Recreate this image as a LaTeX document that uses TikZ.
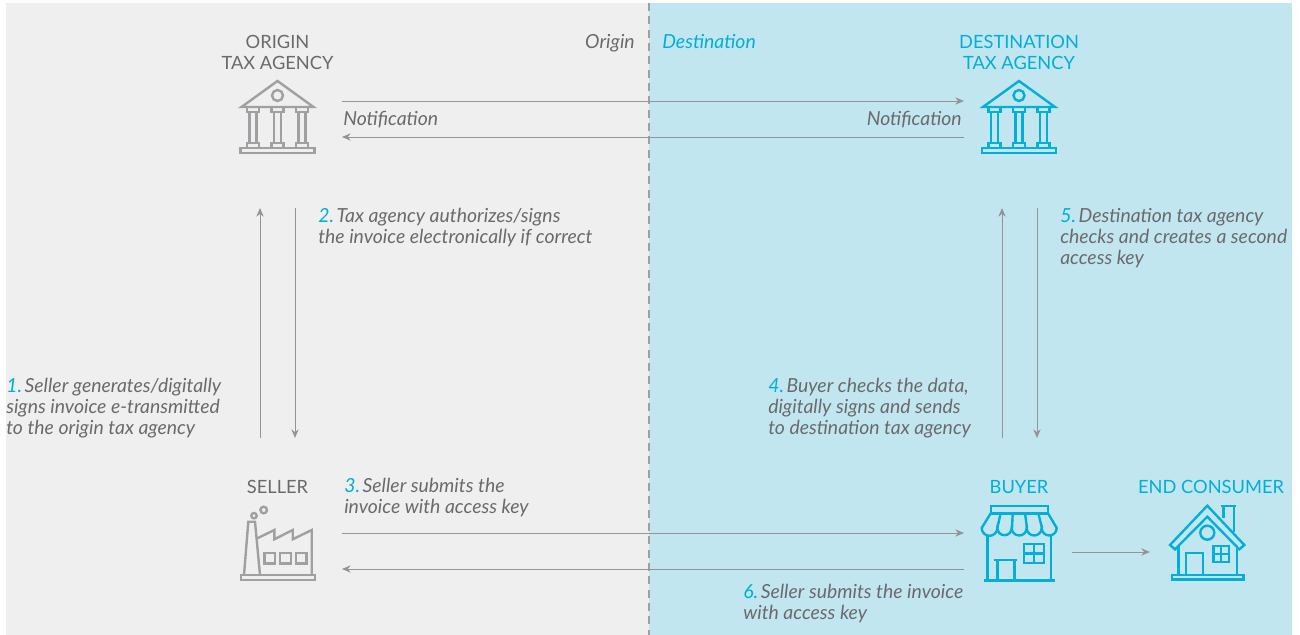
\documentclass[tikz,border=0pt]{standalone}
\usepackage{fontspec}
\setmainfont{Lato}
\usetikzlibrary{arrows.meta}
\definecolor{origingray}{HTML}{EFEFEF}
\definecolor{destblue}{HTML}{C1E6F0}
\definecolor{accentblue}{HTML}{00AFD7}
\definecolor{icongray}{HTML}{A0A0A2}
\definecolor{arrowgray}{HTML}{949496}
\definecolor{labelgray}{HTML}{6A6A6C}
\newcommand{\stepnum}[1]{\textcolor{accentblue}{#1}\hspace{-2.6pt}}
\tikzset{
	>={Stealth[length=6.5pt,width=5.5pt]},
	flow/.style={->, arrowgray, line width=0.7pt},
	actor/.style={inner sep=0pt, align=center, font=\fontsize{13.7}{15.75}\selectfont},
	step label/.style={inner sep=0pt, anchor=west, align=left, text=labelgray, font=\fontsize{14.55}{15.75}\selectfont\itshape},
	icon/.style={line width=1.8pt, line join=miter},
	pics/temple/.style={code={
		\draw[icon, #1] (-36,-10) -- (0,-36) -- (36,-10) -- cycle;
		\draw[icon, #1] (0,-21.5) circle (5.5);
		\foreach \cx in {-24.5,0,24.5}{
			\draw[icon, #1] (\cx-6,-10) rectangle (\cx+6,-5);
			\draw[icon, #1] (\cx-3.5,-5) rectangle (\cx+3.5,26);
			\draw[icon, #1] (\cx-6,26) rectangle (\cx+6,31);
		}
		\draw[icon, #1] (-37,31) rectangle (37,36);
	}}
}
\begin{document}
\begin{tikzpicture}[x=0.75pt, y=-0.75pt]
	\useasboundingbox (0,0) rectangle (1300,635);

	% panels
	\fill[origingray] (6,3) rectangle (649,635);
	\fill[destblue] (649,3) rectangle (1292,635);
	\draw[icongray, line width=1.2pt, dash pattern=on 6pt off 4pt] (649,3) -- (649,635);

	% region names
	\node[step label, anchor=east] (originname) at (635,43) {Origin};
	\node[step label, text=accentblue] (destname) at (662,42) {Destination};

	% actors
	\node[actor, text=labelgray] (origintitle) at (277.5,52.3) {ORIGIN\\TAX AGENCY};
	\node[actor, text=accentblue] (desttitle) at (1019,52.3) {DESTINATION\\TAX AGENCY};
	\node[actor, text=labelgray] (sellertitle) at (277.5,487) {SELLER};
	\node[actor, text=accentblue] (buyertitle) at (1019,487) {BUYER};
	\node[actor, text=accentblue] (consumertitle) at (1211,487) {END CONSUMER};

	% temples
	\pic at (277.5,117) {temple=icongray};
	\pic at (1019,117) {temple=accentblue};

	% factory
	\begin{scope}[icon, icongray]
		\draw (241,575) rectangle (315,580);
		\draw (244,575) -- (248.3,521.7) -- (255,521.7) -- (260,575);
		\draw (257.3,538.3) -- (274.3,530) -- (274.3,539.3) -- (292.7,530) -- (292.7,539.3) -- (311.7,530) -- (311.7,575);
		\foreach \wx in {264.3,280,295.7}
			\draw (\wx,552.7) rectangle (\wx+10.7,563.3);
		\draw (254,515.7) circle (2.7);
		\draw (263.7,510) circle (3.3);
	\end{scope}

	% shop
	\begin{scope}[icon, accentblue]
		\draw (990.7,505.7) rectangle (1048,513.3);
		\draw (990.7,513.3) -- (981.7,528) arc[start angle=180, end angle=0, radius=7.8]
			arc[start angle=180, end angle=0, radius=7.2]
			arc[start angle=180, end angle=0, radius=7.5]
			arc[start angle=180, end angle=0, radius=7.5]
			arc[start angle=180, end angle=0, radius=7.5] -- (1048,513.3);
		\draw (1000.7,513.3) -- (997.3,528) (1012.7,513.3) -- (1012,528)
			(1025,513.3) -- (1027,528) (1038.3,513.3) -- (1042,528);
		\draw (987.3,535) -- (987.3,580.5) (1050.7,535) -- (1050.7,580.5);
		\draw (984,580.5) -- (1055,580.5);
		\draw (994.3,560) -- (1016.7,560);
		\draw (997.3,560) -- (997.3,580.5) (1014.3,560) -- (1014.3,580.5);
		\draw (1024,544) rectangle (1044,562.7);
		\draw (1034,544) -- (1034,562.7) (1024,553.3) -- (1044,553.3);
	\end{scope}

	% house
	\begin{scope}[icon, accentblue]
		\draw (1207.3,505.7) -- (1244.3,545) -- (1239.3,549.3) -- (1207.3,516.7) -- (1175,549.3) -- (1170,545) -- cycle;
		\draw (1207.3,532.7) circle (7);
		\draw (1223.3,518) -- (1223.3,505.7) (1234,531.7) -- (1234,505.7) (1221,505.7) -- (1236,505.7);
		\draw (1178.3,546) -- (1178.3,575) (1236.7,546) -- (1236.7,575);
		\draw (1171.7,575) rectangle (1243.3,579.5);
		\draw (1186,575) -- (1186,552.7) -- (1202.7,552.7) -- (1202.7,575);
		\draw (1213.3,546) rectangle (1228.7,562);
		\draw (1221,546) -- (1221,562) (1213.3,554) -- (1228.7,554);
	\end{scope}

	% connector ends
	\coordinate (agencyA) at (342,101);
	\coordinate (agencyB) at (964,101);
	\coordinate (agencyC) at (964,137);
	\coordinate (agencyD) at (342,137);
	\coordinate (sellerup) at (260,438);
	\coordinate (originup) at (260,208);
	\coordinate (origindown) at (295,208);
	\coordinate (sellerdown) at (295,438);
	\coordinate (buyerup) at (1002,438);
	\coordinate (destup) at (1002,208);
	\coordinate (destdown) at (1037,208);
	\coordinate (buyerdown) at (1037,438);
	\coordinate (sellerA) at (342,533);
	\coordinate (buyerA) at (964,533);
	\coordinate (buyerB) at (964,569);
	\coordinate (sellerB) at (342,569);
	\coordinate (buyerC) at (1072,552);
	\coordinate (consumerC) at (1150,552);

	% flows
	\draw[flow] (agencyA) -- (agencyB);
	\draw[flow] (agencyC) -- (agencyD);
	\draw[flow] (sellerup) -- (originup);
	\draw[flow] (origindown) -- (sellerdown);
	\draw[flow] (buyerup) -- (destup);
	\draw[flow] (destdown) -- (buyerdown);
	\draw[flow] (sellerA) -- (buyerA);
	\draw[flow] (buyerB) -- (sellerB);
	\draw[flow] (buyerC) -- (consumerC);

	% labels
	\node[step label] (notifyleft) at (343,120) {Notification};
	\node[step label, anchor=east] (notifyright) at (962,120) {Notification};
	\node[step label] (stepone) at (6,408) {\stepnum{1.} Seller generates/digitally\\signs invoice e-transmitted\\to the origin tax agency};
	\node[step label] (steptwo) at (318,227.5) {\stepnum{2.} Tax agency authorizes/signs\\the invoice electronically if correct};
	\node[step label] (stepthree) at (344,498) {\stepnum{3.} Seller submits the\\invoice with access key};
	\node[step label] (stepfour) at (768,408) {\stepnum{4.} Buyer checks the data,\\digitally signs and sends\\to destination tax agency};
	\node[step label] (stepfive) at (1060,238.5) {\stepnum{5.} Destination tax agency\\checks and creates a second\\access key};
	\node[step label] (stepsix) at (743,604) {\stepnum{6.} Seller submits the invoice\\with access key};
\end{tikzpicture}
\end{document}
